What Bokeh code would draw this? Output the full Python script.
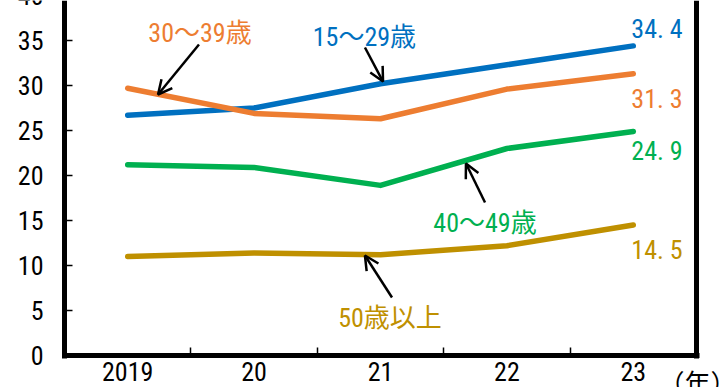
from bokeh.plotting import figure
from bokeh.models import Range1d, FixedTicker, LinearAxis, Label, Arrow, OpenHead
from bokeh.embed import file_html
from bokeh.resources import INLINE

# Survey years (x categories) and share by age group (%)
years = ["2019", "20", "21", "22", "23"]
age_groups = ["15～29歳", "30～39歳", "40～49歳", "50歳以上"]
rate_15_29 = [26.7, 27.5, 30.2, 32.3, 34.4]
rate_30_39 = [29.7, 26.9, 26.3, 29.6, 31.3]
rate_40_49 = [21.2, 20.9, 18.9, 23.0, 24.9]
rate_50_up = [11.0, 11.4, 11.2, 12.2, 14.5]
y_ticks = [0, 5, 10, 15, 20, 25, 30, 35, 40]
year_unit = "（年）"

series = [rate_15_29, rate_30_39, rate_40_49, rate_50_up]
colors = ["#0070C0", "#ED7D31", "#00B050", "#BF9000"]

FONT = "'Roboto Condensed', 'Noto Sans CJK JP', sans-serif"
FS = "26px"

W, H = 719, 387
LEFT = 64            # position of the y-axis rule
CAT_PX = 126.4       # pixels per year
UNIT_PX = 9.0        # pixels per percentage point
ZERO_PX = 355        # height of the y = 0 rule

# the plot area fills the whole page; the axes are pinned inside it
xs = list(range(len(years)))
X_LO, X_HI = -0.5, len(years) - 0.5
x_range = Range1d(X_LO - LEFT / CAT_PX, X_LO + (W - LEFT) / CAT_PX)
y_range = Range1d(-(H - ZERO_PX) / UNIT_PX, ZERO_PX / UNIT_PX)
Y_TOP = y_range.end

p = figure(width=W, height=H, output_backend="svg", toolbar_location=None,
           x_range=x_range, y_range=y_range,
           min_border_left=0, min_border_right=0, min_border_top=0, min_border_bottom=0,
           outline_line_color=None, x_axis_location=None, y_axis_location=None)
p.grid.visible = False
p.background_fill_color = "white"
p.border_fill_color = "white"


def text_only(ax, standoff):
    ax.axis_line_color = None
    ax.major_tick_in = ax.major_tick_out = 0
    ax.minor_tick_in = ax.minor_tick_out = 0
    ax.major_label_standoff = standoff
    ax.major_label_text_font = FONT
    ax.major_label_text_font_size = FS
    ax.major_label_text_color = "black"


# half a rule width, in data units, so the frame corners close cleanly
pad_x = 2.5 / CAT_PX
pad_y = 2.5 / UNIT_PX

# x axis at y = 0: thick rule, small inward ticks between years, year labels
xa = LinearAxis(fixed_location=0, bounds=(X_LO - pad_x, X_HI + pad_x),
                ticker=FixedTicker(ticks=xs, minor_ticks=[i + 0.5 for i in xs[:-1]]),
                major_label_overrides={i: y for i, y in zip(xs, years)})
text_only(xa, 6)
xa.axis_line_width = 5
xa.axis_line_color = "black"
xa.minor_tick_in = 8
xa.minor_tick_line_width = 1.5
xa.minor_tick_line_color = "black"
p.add_layout(xa, "below")

# y axis at the first boundary: 0-35, inward ticks
Y_STANDOFF = 21
ya = LinearAxis(fixed_location=X_LO, bounds=(-pad_y, Y_TOP),
                ticker=FixedTicker(ticks=y_ticks[:-1], minor_ticks=[]))
text_only(ya, Y_STANDOFF)
ya.major_tick_in = 8
ya.major_tick_line_width = 1.5
ya.major_tick_line_color = "black"
ya.axis_line_width = 5
ya.axis_line_color = "black"
p.add_layout(ya, "left")

# right-hand frame edge
ra = LinearAxis(fixed_location=X_HI, bounds=(-pad_y, Y_TOP),
                ticker=FixedTicker(ticks=[], minor_ticks=[]))
text_only(ra, 0)
ra.axis_line_width = 5
ra.axis_line_color = "black"
p.add_layout(ra, "right")

# top tick value, running off the top of the page
p.add_layout(Label(x=X_LO, y=y_ticks[-1], text=str(y_ticks[-1]), x_offset=-Y_STANDOFF,
                   text_align="right", text_baseline="middle",
                   text_font=FONT, text_font_size=FS, text_color="black"))

# unit caption just past the last year
p.add_layout(Label(x=X_HI + 0.008, y=0, text=year_unit, y_offset=-13,
                   text_align="center", text_baseline="top",
                   text_font=FONT, text_font_size=FS, text_color="black"))

for vals, c in zip(series, colors):
    p.line(xs, vals, line_color=c, line_width=5.5, line_cap="round", line_join="round")

# end-of-line value labels
end_offsets = [17, -25, -20, -25]
for vals, c, dy in zip(series, colors, end_offsets):
    p.add_layout(Label(x=xs[-1], y=vals[-1], text=f"{vals[-1]:.1f}".replace(".", ". "),
                       x_offset=-2, y_offset=dy, text_align="left", text_baseline="middle",
                       text_font=FONT, text_font_size=FS, text_color=c))

# group names with pointer arrows
name_pos = [(1.873, 35.4), (0.572, 35.8), (2.827, 14.67), (2.075, 4.22)]
arrow_pos = [((1.877, 34.22), (2.020, 30.44)),
             ((0.564, 34.56), (0.240, 29.0)),
             ((2.827, 17.0), (2.676, 21.33)),
             ((2.091, 6.44), (1.877, 11.11))]
for name, c, (nx, ny), ((x0, y0), (x1, y1)) in zip(age_groups, colors, name_pos, arrow_pos):
    p.add_layout(Label(x=nx, y=ny, text=name, text_align="center", text_baseline="middle",
                       text_font=FONT, text_font_size=FS, text_color=c))
    p.add_layout(Arrow(x_start=x0, y_start=y0, x_end=x1, y_end=y1,
                       line_width=2.5, line_color="black",
                       end=OpenHead(size=14, line_width=2.5, line_color="black")))

open("out.html", "w").write(file_html(p, INLINE))
